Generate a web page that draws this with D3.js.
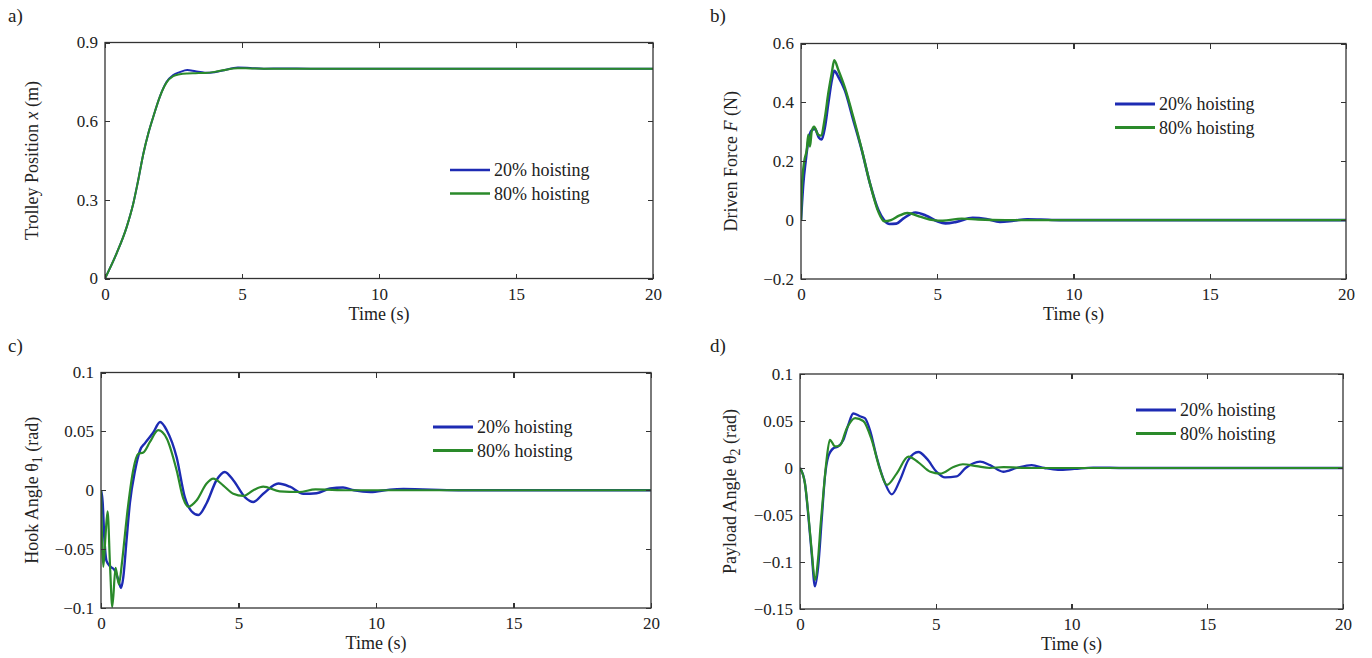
<!DOCTYPE html>
<html lang="en">
<head>
<meta charset="utf-8">
<title>Trolley / hook / payload response, 20% vs 80% hoisting</title>
<style>
	body { margin: 0; background: #fff; }
	.axis path { display: none; }
	.axis line { stroke: #333; stroke-width: 1.2; shape-rendering: crispEdges; }
	.axis text { font-family: "Liberation Serif", "Times New Roman", serif; font-size: 17px; fill: #222; }
	.lbl { font-family: "Liberation Serif", "Times New Roman", serif; fill: #222; }
</style>
</head>
<body>
<div id="vis"></div>
<script src="https://cdn.jsdelivr.net/npm/d3@7/dist/d3.min.js"></script>
<script>

// ---- data ----
var seriesNames = ["20% hoisting", "80% hoisting"];
var xTicks = [0, 5, 10, 15, 20];

// a) trolley position x (m)
var aT = [0,0.42,0.79,1.03,1.21,1.4,1.58,1.76,2.0,2.25,2.49,2.73,3.0,3.3,3.65,4.0,4.3,4.85,5.3,5.8,6.5,7.5,9,11,14,17,20];
var a20 = [0,0.095,0.196,0.285,0.374,0.476,0.553,0.616,0.693,0.75,0.776,0.787,0.795,0.79,0.785,0.787,0.793,0.805,0.803,0.8,0.801,0.8,0.8,0.8,0.8,0.8,0.8];
var a80 = [0,0.095,0.196,0.285,0.374,0.476,0.553,0.616,0.693,0.748,0.772,0.779,0.782,0.783,0.784,0.788,0.794,0.802,0.801,0.8,0.8,0.8,0.8,0.8,0.8,0.8,0.8];
var aYTicks = [0, 0.3, 0.6, 0.9];
var aYLabels = ["0", "0.3", "0.6", "0.9"];

// b) driven force F (N)
var b20T = [0,0.085,0.17,0.27,0.39,0.51,0.66,0.76,0.88,1.0,1.13,1.22,1.37,1.61,1.92,2.23,2.53,2.84,3.05,3.25,3.5,3.75,4.2,4.6,5.0,5.3,5.7,6.3,6.8,7.3,7.8,8.3,8.8,9.5,11,14,17,20];
var b20 = [0,0.125,0.2,0.27,0.305,0.31,0.28,0.274,0.317,0.396,0.475,0.507,0.487,0.441,0.34,0.238,0.125,0.034,0.0,-0.013,-0.012,0.005,0.026,0.015,-0.004,-0.011,-0.006,0.008,0.004,-0.006,-0.002,0.003,0.002,0,0,0,0,0];
var b80T = [0,0.04,0.12,0.21,0.27,0.33,0.39,0.48,0.63,0.73,0.88,1.0,1.13,1.22,1.37,1.61,1.92,2.23,2.53,2.84,3.05,3.3,3.6,3.9,4.4,4.85,5.2,5.9,6.5,7.5,9,12,16,20];
var b80 = [0,0.125,0.2,0.238,0.29,0.25,0.3,0.317,0.29,0.287,0.35,0.43,0.5,0.543,0.51,0.45,0.35,0.24,0.125,0.028,-0.004,0.0,0.015,0.024,0.011,0.0,-0.002,0.005,0.002,0,0,0,0,0];
var bYTicks = [-0.2, 0, 0.2, 0.4, 0.6];
var bYLabels = ["\u22120.2", "0", "0.2", "0.4", "0.6"];

// c) hook angle theta1 (rad)
var c20T = [0,0.06,0.12,0.2,0.35,0.5,0.63,0.73,0.81,0.93,1.05,1.24,1.42,1.6,1.9,2.15,2.39,2.75,3.05,3.3,3.54,3.84,4.2,4.5,4.81,5.24,5.54,5.9,6.45,6.87,7.36,7.84,8.33,8.8,9.2,9.8,10.5,11,13,16,20];
var c20 = [0,-0.01,-0.04,-0.06,-0.065,-0.068,-0.076,-0.083,-0.074,-0.042,-0.011,0.017,0.034,0.04,0.049,0.058,0.051,0.028,-0.006,-0.018,-0.021,-0.011,0.0085,0.0155,0.0085,-0.006,-0.01,-0.003,0.0057,0.003,-0.003,-0.0025,0.0015,0.0023,0,-0.0015,0.0005,0.001,0,0,0];
var c80T = [0,0.085,0.16,0.24,0.33,0.41,0.53,0.65,0.76,0.86,0.95,1.04,1.17,1.36,1.54,1.78,2.08,2.39,2.75,2.99,3.17,3.48,3.84,4.08,4.45,4.81,5.17,5.54,5.9,6.5,7.2,7.8,9,12,16,20];
var c80 = [0,-0.065,-0.04,-0.018,-0.065,-0.099,-0.066,-0.08,-0.062,-0.04,-0.02,-0.003,0.017,0.031,0.032,0.041,0.051,0.044,0.017,-0.007,-0.014,-0.0085,0.0057,0.0099,0.004,-0.003,-0.0048,0,0.003,-0.001,-0.0015,0.0007,0,0,0,0];
var cYTicks = [-0.1, -0.05, 0, 0.05, 0.1];
var cYLabels = ["\u22120.1", "\u22120.05", "0", "0.05", "0.1"];

// d) payload angle theta2 (rad)
var d20T = [0,0.18,0.31,0.43,0.55,0.67,0.8,0.92,1.04,1.23,1.41,1.6,1.78,1.96,2.21,2.39,2.58,2.82,3.13,3.38,3.68,3.99,4.36,4.67,5.03,5.34,5.77,6.1,6.63,7.0,7.49,7.98,8.53,9.0,9.5,10.1,10.8,12,16,20];
var d20 = [0,-0.016,-0.052,-0.091,-0.126,-0.105,-0.055,-0.009,0.012,0.021,0.023,0.03,0.046,0.058,0.055,0.053,0.04,0.012,-0.016,-0.028,-0.013,0.0085,0.017,0.01,-0.004,-0.01,-0.009,0,0.0067,0.003,-0.004,0,0.003,0,-0.002,-0.001,0.0005,0,0,0];
var d80T = [0,0.18,0.31,0.43,0.55,0.67,0.76,0.86,0.98,1.1,1.29,1.47,1.72,2.03,2.33,2.64,2.95,3.2,3.56,3.99,4.36,4.8,5.16,5.65,6.0,6.5,7.0,7.5,8.5,12,16,20];
var d80 = [0,-0.016,-0.05,-0.088,-0.119,-0.095,-0.06,-0.027,0.009,0.03,0.023,0.024,0.042,0.053,0.05,0.03,-0.002,-0.018,-0.006,0.012,0.006,-0.004,-0.006,0.001,0.004,0.002,0,0.001,0,0,0,0];
var dYTicks = [-0.15, -0.1, -0.05, 0, 0.05, 0.1];
var dYLabels = ["\u22120.15", "\u22120.1", "\u22120.05", "0", "0.05", "0.1"];

var colors = ["#1d2bb3", "#2a8a2a"];

// ---- layout ----
var w = 1372, h = 658;

var panels = [
	{ tag: "a)", tagX: 8, tagY: 22, l: 105, r: 653, t: 42.5, b: 278.5,
	  yDomain: [0, 0.9], yTicks: aYTicks, yLabels: aYLabels,
	  series: [[aT, a20], [aT, a80]], sw: [2, 2], lw: 2.6,
	  ylabX: 32, ylab: [["Trolley Position ", ""], ["x", "i"], [" (m)", ""]],
	  legX: 450, legY: 170 },
	{ tag: "b)", tagX: 710, tagY: 22, l: 801, r: 1346, t: 43.5, b: 279,
	  yDomain: [-0.2, 0.6], yTicks: bYTicks, yLabels: bYLabels,
	  series: [[b20T, b20], [b80T, b80]], sw: [2.6, 2.4], lw: 3.2,
	  ylabX: 731, ylab: [["Driven Force  ", ""], ["F", "i"], [" (N)", ""]],
	  legX: 1115, legY: 104 },
	{ tag: "c)", tagX: 8, tagY: 352, l: 101, r: 651, t: 372.5, b: 608,
	  yDomain: [-0.1, 0.1], yTicks: cYTicks, yLabels: cYLabels,
	  series: [[c20T, c20], [c80T, c80]], sw: [2.4, 2.2], lw: 3,
	  ylabX: 32, ylab: [["Hook Angle  \u03b8", ""], ["1", "s"], [" (rad)", ""]],
	  legX: 433, legY: 427 },
	{ tag: "d)", tagX: 710, tagY: 352, l: 800, r: 1343, t: 374, b: 609,
	  yDomain: [-0.15, 0.1], yTicks: dYTicks, yLabels: dYLabels,
	  series: [[d20T, d20], [d80T, d80]], sw: [2.3, 2.2], lw: 3,
	  ylabX: 730, ylab: [["Payload Angle \u03b8", ""], ["2", "s"], [" (rad)", ""]],
	  legX: 1136, legY: 410 }
];

var svg = d3.select("#vis")
			.append("svg")
			.attr("width", w)
			.attr("height", h);

panels.forEach(function(p, pi) {

	var xScale = d3.scaleLinear().domain([0, 20]).range([p.l, p.r]);
	var yScale = d3.scaleLinear().domain(p.yDomain).range([p.b, p.t]);

	//panel tag
	svg.append("text")
		.attr("class", "lbl")
		.attr("x", p.tagX)
		.attr("y", p.tagY)
		.attr("font-size", "19px")
		.text(p.tag);

	//clip for the curves
	svg.append("clipPath")
		.attr("id", "clip" + pi)
		.append("rect")
		.attr("x", p.l)
		.attr("y", p.t)
		.attr("width", p.r - p.l)
		.attr("height", p.b - p.t);

	//curves
	var line = d3.line()
		.x(function(d) { return xScale(d[0]); })
		.y(function(d) { return yScale(d[1]); })
		.curve(d3.curveMonotoneX);

	p.series.forEach(function(s, si) {
		var pts = s[0].map(function(t, i) { return [t, s[1][i]]; });
		svg.append("path")
			.datum(pts)
			.attr("clip-path", "url(#clip" + pi + ")")
			.attr("fill", "none")
			.attr("stroke", colors[si])
			.attr("stroke-width", p.sw[si])
			.attr("stroke-linejoin", "round")
			.attr("d", line);
	});

	//box
	svg.append("rect")
		.attr("x", p.l)
		.attr("y", p.t)
		.attr("width", p.r - p.l)
		.attr("height", p.b - p.t)
		.attr("fill", "none")
		.attr("stroke", "#333")
		.attr("stroke-width", 1.3);

	//axes, ticks pointing inward on all four sides
	svg.append("g")
		.attr("class", "axis")
		.attr("transform", "translate(0," + p.b + ")")
		.call(d3.axisBottom(xScale).tickValues(xTicks).tickSize(-5).tickPadding(9).tickFormat(d3.format("d")));

	svg.append("g")
		.attr("class", "axis")
		.attr("transform", "translate(0," + p.t + ")")
		.call(d3.axisTop(xScale).tickValues(xTicks).tickSize(-5).tickFormat(""));

	svg.append("g")
		.attr("class", "axis")
		.attr("transform", "translate(" + p.l + ",0)")
		.call(d3.axisLeft(yScale).tickValues(p.yTicks).tickSize(-5).tickPadding(7)
			.tickFormat(function(d, i) { return p.yLabels[i]; }));

	svg.append("g")
		.attr("class", "axis")
		.attr("transform", "translate(" + p.r + ",0)")
		.call(d3.axisRight(yScale).tickValues(p.yTicks).tickSize(-5).tickFormat(""));

	//x title
	svg.append("text")
		.attr("class", "lbl")
		.attr("x", (p.l + p.r) / 2)
		.attr("y", p.b + 41)
		.attr("text-anchor", "middle")
		.attr("font-size", "18px")
		.text("Time (s)");

	//y title
	var yl = svg.append("text")
		.attr("class", "lbl")
		.attr("transform", "translate(" + p.ylabX + "," + ((p.t + p.b) / 2) + ") rotate(-90)")
		.attr("text-anchor", "middle")
		.attr("dy", "0.35em")
		.attr("font-size", "18px");
	p.ylab.forEach(function(part) {
		var ts = yl.append("tspan").text(part[0]);
		if (part[1] === "i") ts.attr("font-style", "italic");
		if (part[1] === "s") ts.attr("baseline-shift", "-25%").attr("font-size", "14px");
	});

	//legend
	seriesNames.forEach(function(name, si) {
		var ly = p.legY + si * 23.5;
		svg.append("line")
			.attr("x1", p.legX)
			.attr("x2", p.legX + 40)
			.attr("y1", ly)
			.attr("y2", ly)
			.attr("stroke", colors[si])
			.attr("stroke-width", p.lw);
		svg.append("text")
			.attr("class", "lbl")
			.attr("x", p.legX + 44)
			.attr("y", ly)
			.attr("dy", "0.35em")
			.attr("font-size", "18px")
			.text(name);
	});
});

</script>
</body>
</html>
